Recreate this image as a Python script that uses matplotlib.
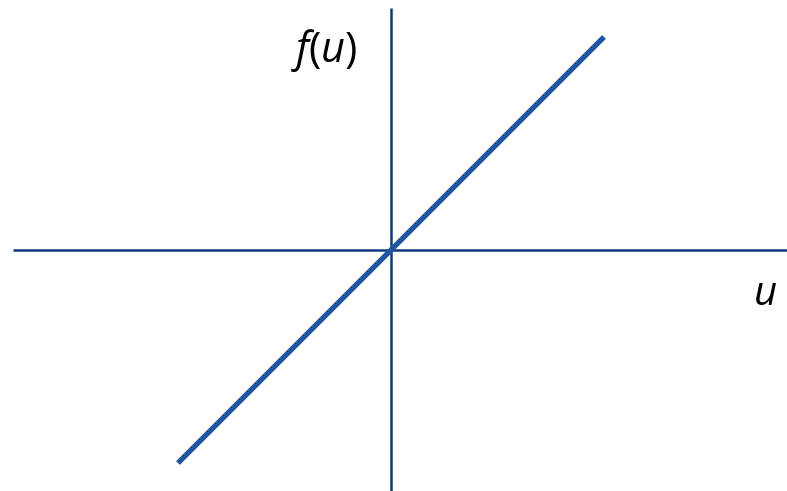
import matplotlib
matplotlib.use("Agg")
import matplotlib.pyplot as plt

plt.rcParams["mathtext.fontset"] = "custom"
plt.rcParams["mathtext.rm"] = "Open Sans"
plt.rcParams["mathtext.it"] = "Open Sans:italic"

# data: identity function f(u) = u
u_vals = [-1.0, 1.0]
f_vals = [-1.0, 1.0]

# axis extents (data units)
xaxis_range = [-1.775, 1.86]
yaxis_range = [-1.135, 1.136]

W, H, dpi = 787, 491, 100
fig = plt.figure(figsize=(W / dpi, H / dpi), dpi=dpi)
ax = fig.add_axes([0, 0, 1, 1])
scale = 213.0
ox, oy = 391.0, 250.0
ax.set_xlim(-ox / scale, (W - ox) / scale)
ax.set_ylim(-(H - oy) / scale, oy / scale)
ax.axis("off")

axis_color = "#0e3a7c"
line_color = "#1f56a0"

ax.plot(xaxis_range, [0, 0], color=axis_color, lw=1.8, solid_capstyle="butt")
ax.plot([0, 0], yaxis_range, color=axis_color, lw=1.8, solid_capstyle="butt")
ax.plot(u_vals, f_vals, color=line_color, lw=3.8, solid_capstyle="butt")

ax.text((324 - ox) / scale, (oy - 50) / scale, r"$f\mathrm{(}u\mathrm{)}$", fontsize=30,
        ha="center", va="center", color="black")
ax.text((765 - ox) / scale, (oy - 295) / scale, "u", fontsize=29,
        fontstyle="italic", family="Open Sans", ha="center", va="center", color="black")

fig.savefig("out.png", dpi=dpi)
